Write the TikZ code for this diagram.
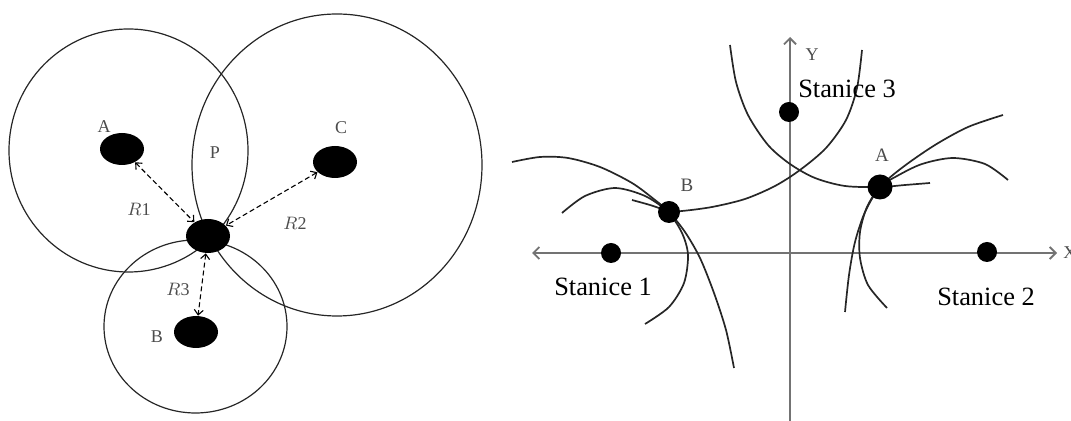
\documentclass[tikz,border=0pt]{standalone}
\usepackage{fontspec}
\setmainfont{Liberation Serif}
\usetikzlibrary{arrows.meta,shapes.geometric}

\begin{document}
\begin{tikzpicture}[x=0.5pt,y=-0.5pt,
    blob/.style={ellipse,fill=black,inner sep=0pt,minimum width=22pt,minimum height=16pt},
    dot/.style={circle,fill=black,inner sep=0pt,minimum size=10pt},
    rangeline/.style={line width=0.6pt,black!85},
    dist/.style={line width=0.55pt,dash pattern=on 2.5pt off 1.5pt,
        {Straight Barb[length=2.5pt,width=4.5pt]}-{Straight Barb[length=2.5pt,width=4.5pt]}},
    axis/.style={line width=0.9pt,black!55,{Straight Barb[length=3pt,width=6pt]}-{Straight Barb[length=3pt,width=6pt]}},
    branch/.style={line width=0.85pt,black!85},
    tag/.style={text=black!70,font=\fontsize{9}{10}\selectfont,inner sep=0pt},
    station/.style={font=\fontsize{13.2}{15}\selectfont,inner sep=0pt}]
    \useasboundingbox (0,0) rectangle (1071,421);
    % left: three range circles
    \draw[rangeline] (128.5,150.5) ellipse [x radius=119.5, y radius=121.5];
    \draw[rangeline] (337,165) ellipse [x radius=145, y radius=151];
    \draw[rangeline] (195.5,326.5) ellipse [x radius=91.5, y radius=86.5];
    \node[blob] (a) at (122,149) {};
    \node[blob] (c) at (335,162) {};
    \node[blob] (b) at (196,332) {};
    \node[blob,minimum height=17pt] (pos) at (208,236) {};
    \draw[dist] (a) -- (pos);
    \draw[dist] (c) -- (pos);
    \draw[dist] (pos) -- (b);
    \node[tag] (ta) at (104,127) {A};
    \node[tag] (tc) at (341,128) {C};
    \node[tag] (tp) at (215,153) {P};
    \node[tag] (tb) at (157,337) {B};
    \node[tag] (r1) at (139,209) {$R$1};
    \node[tag] (r2) at (295,223) {$R$2};
    \node[tag] (r3) at (178,289) {$R$3};
    % right: axes
    \coordinate (xl) at (532,253);
    \coordinate (xr) at (1057,253);
    \coordinate (yt) at (790,37);
    \coordinate (yb) at (790,424);
    \draw[axis] (xl) -- (xr);
    \draw[axis,-{Straight Barb[length=3pt,width=6pt]}] (yb) -- (yt);
    \node[tag,anchor=west] (xlab) at (1063,253) {X};
    \node[tag] (ylab) at (812,55) {Y};
    % hyperbola branches
    \draw[branch] plot[smooth] coordinates {(730,45) (736,82) (748,115) (768,145) (790,164)
        (815,178) (845,186) (880,187) (905,185) (930,183)};
    \draw[branch] plot[smooth] coordinates {(862,50) (857,88) (846,120) (826,148) (800,170)
        (775,186) (745,199) (712,207) (682,211) (669,211) (650,205) (632,200)};
    \draw[branch] plot[smooth] coordinates {(512,162) (540,157) (568,158) (600,167) (632,183)
        (655,200) (669,212) (685,232) (700,258) (714,293) (726,330) (734,368)};
    \draw[branch] plot[smooth] coordinates {(562,213) (585,196) (615,188) (645,196) (668,212)
        (682,233) (688,255) (684,283) (669,307) (645,324)};
    \draw[branch] plot[smooth] coordinates {(1003,115) (968,127) (935,145) (903,167) (880,187)
        (865,212) (855,242) (849,275) (845,312)};
    \draw[branch] plot[smooth] coordinates {(1008,180) (985,164) (953,158) (922,164) (897,176)
        (880,187) (867,207) (860,232) (860,258) (868,285) (887,308)};
    % stations and fixes
    \node[dot] (s1) at (611,253) {};
    \node[dot] (s2) at (987,252) {};
    \node[dot] (s3) at (789,112) {};
    \node[dot,minimum size=12.5pt] (fa) at (880,187) {};
    \node[dot,minimum size=11pt] (fb) at (669,212) {};
    \node[station] (l1) at (603,287) {Stanice 1};
    \node[station] (l2) at (986,297) {Stanice 2};
    \node[station] (l3) at (847,89) {Stanice 3};
    \node[tag,font=\fontsize{9.5}{10}\selectfont] (tfa) at (882,155) {A};
    \node[tag,font=\fontsize{9.5}{10}\selectfont] (tfb) at (687,185) {B};
\end{tikzpicture}
\end{document}
